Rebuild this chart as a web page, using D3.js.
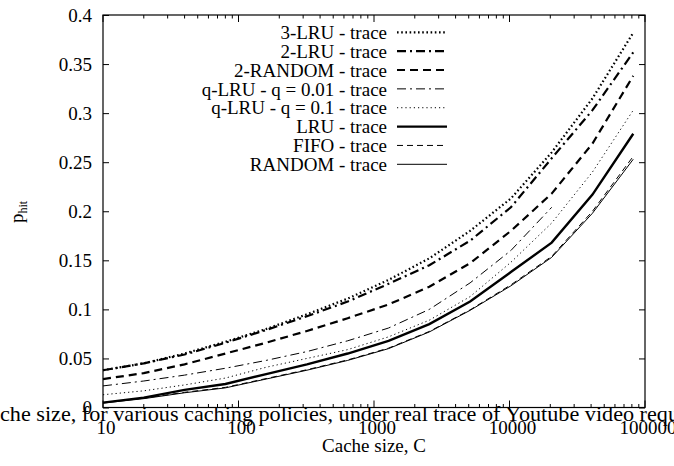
<!DOCTYPE html>
<html>
<head>
<meta charset="utf-8">
<script src="https://cdn.jsdelivr.net/npm/d3@7"></script>
<style>
  body { margin: 0; background: #fff; }
  text { font-family: "Liberation Serif", "Times New Roman", serif; fill: #000; }
</style>
</head>
<body>
<svg id="chart"></svg>
<script>
// cache sizes (x) and hit probability of each policy (y)
var sizes = [10, 20, 40, 80, 160, 320, 640, 1280, 2560, 5120, 10240, 20480, 40960, 81920];

var lru3    = [0.038, 0.045, 0.055, 0.067, 0.080, 0.095, 0.111, 0.130, 0.152, 0.180, 0.213, 0.260, 0.315, 0.382];
var lru2    = [0.038, 0.045, 0.054, 0.066, 0.079, 0.093, 0.108, 0.126, 0.145, 0.170, 0.204, 0.254, 0.303, 0.362];
var random2 = [0.029, 0.035, 0.044, 0.055, 0.066, 0.078, 0.091, 0.105, 0.123, 0.147, 0.180, 0.218, 0.269, 0.338];
var qlru001 = [0.022, 0.027, 0.033, 0.040, 0.048, 0.057, 0.068, 0.081, 0.100, 0.127, 0.160, 0.204];
var qlru01  = [0.013, 0.017, 0.023, 0.030, 0.041, 0.050, 0.059, 0.072, 0.089, 0.113, 0.148, 0.188, 0.240, 0.303];
var lru     = [0.005, 0.010, 0.018, 0.024, 0.034, 0.044, 0.055, 0.068, 0.085, 0.108, 0.138, 0.168, 0.217, 0.279];
var fifo    = [0.005, 0.0095, 0.0155, 0.0205, 0.0295, 0.0385, 0.0485, 0.0605, 0.0775, 0.0995, 0.125, 0.154, 0.200, 0.256];
var random  = [0.0045, 0.009, 0.015, 0.020, 0.029, 0.038, 0.048, 0.060, 0.077, 0.099, 0.124, 0.153, 0.198, 0.253];

var names = ["3-LRU - trace", "2-LRU - trace", "2-RANDOM - trace", "q-LRU - q = 0.01 - trace",
             "q-LRU - q = 0.1 - trace", "LRU - trace", "FIFO - trace", "RANDOM - trace"];
var seriesValues = [lru3, lru2, random2, qlru001, qlru01, lru, fifo, random];

var xTicks = [10, 100, 1000, 10000, 100000];
var xTickLabels = ["10", "100", "1000", "10000", "100000"];
var yTicks = [0, 0.05, 0.1, 0.15, 0.2, 0.25, 0.3, 0.35, 0.4];
var yTickLabels = ["0", "0.05", "0.1", "0.15", "0.2", "0.25", "0.3", "0.35", "0.4"];

var caption = "che size, for various caching policies, under real trace of Youtube video requ";

// line styles, same order as names
var styles = [
  {w: 2.2, dash: "1.6,2.6"},
  {w: 2.2, dash: "9,4,2,4"},
  {w: 2.2, dash: "8,5"},
  {w: 1,   dash: "9,4,2,4"},
  {w: 1,   dash: "1.2,3"},
  {w: 2.4, dash: null},
  {w: 1,   dash: "6,4"},
  {w: 1,   dash: null}
];

var screen = {width: 674, height: 466};
var margins = {left: 103, right: 29, top: 15, bottom: 58.5};
var graph = {
  width: screen.width - margins.left - margins.right,
  height: screen.height - margins.top - margins.bottom
};

var svg = d3.select("#chart")
  .attr("width", screen.width)
  .attr("height", screen.height);

svg.append("rect").attr("width", screen.width).attr("height", screen.height).attr("fill", "#fff");

var g = svg.append("g")
  .attr("transform", "translate(" + margins.left + "," + margins.top + ")");

var xScale = d3.scaleLog().domain([10, 100000]).range([0, graph.width]);
var yScale = d3.scaleLinear().domain([0, 0.4]).range([graph.height, 0]);

// minor and major ticks on x, inward, top and bottom
var minor = xScale.ticks().filter(function(d) { return xTicks.indexOf(d) < 0; });
[[graph.height, -1], [0, 1]].forEach(function(side) {
  g.selectAll(null).data(minor).enter().append("line")
    .attr("x1", function(d) { return xScale(d); })
    .attr("x2", function(d) { return xScale(d); })
    .attr("y1", side[0]).attr("y2", side[0] + side[1] * 3.5)
    .attr("stroke", "#000").attr("stroke-width", 1);
  g.selectAll(null).data(xTicks).enter().append("line")
    .attr("x1", function(d) { return xScale(d); })
    .attr("x2", function(d) { return xScale(d); })
    .attr("y1", side[0]).attr("y2", side[0] + side[1] * 7)
    .attr("stroke", "#000").attr("stroke-width", 1);
});

// y ticks inward, left and right
var yAxis = d3.axisLeft(yScale).tickValues(yTicks)
  .tickSize(-6).tickPadding(11)
  .tickFormat(function(d, i) { return yTickLabels[i]; });
var ya = g.append("g").call(yAxis);
ya.select(".domain").remove();
ya.selectAll("text").attr("font-size", 19).attr("font-family", "Liberation Serif").attr("fill", "#000");

var ya2 = g.append("g").attr("transform", "translate(" + graph.width + ",0)")
  .call(d3.axisRight(yScale).tickValues(yTicks).tickSize(-6).tickFormat(""));
ya2.select(".domain").remove();

// x tick labels
g.selectAll(null).data(xTicks).enter().append("text")
  .attr("x", function(d) { return xScale(d) + 3; })
  .attr("y", graph.height + 26.5)
  .attr("text-anchor", "middle")
  .attr("font-size", 19)
  .text(function(d, i) { return xTickLabels[i]; });

// frame
g.append("rect").attr("width", graph.width).attr("height", graph.height)
  .attr("fill", "none").attr("stroke", "#000").attr("stroke-width", 1.2);

// curves
var lineGenerator = d3.line()
  .x(function(v, i) { return xScale(sizes[i]); })
  .y(function(v) { return yScale(v); });

g.selectAll(".curve").data(seriesValues).enter().append("path")
  .classed("curve", true)
  .attr("d", lineGenerator)
  .attr("fill", "none")
  .attr("stroke", "#000")
  .attr("stroke-width", function(d, i) { return styles[i].w; })
  .attr("stroke-dasharray", function(d, i) { return styles[i].dash; });

// legend
var legend = svg.append("g");
var rowY = d3.scaleLinear().domain([0, names.length - 1]).range([32.3, 164.3]);
legend.selectAll("text").data(names).enter().append("text")
  .attr("x", 387)
  .attr("y", function(d, i) { return rowY(i); })
  .attr("dy", "0.35em")
  .attr("text-anchor", "end")
  .attr("font-size", 19)
  .text(function(d) { return d; });
legend.selectAll("line").data(names).enter().append("line")
  .attr("x1", 397).attr("x2", 447)
  .attr("y1", function(d, i) { return rowY(i); })
  .attr("y2", function(d, i) { return rowY(i); })
  .attr("stroke", "#000")
  .attr("stroke-width", function(d, i) { return styles[i].w; })
  .attr("stroke-dasharray", function(d, i) { return styles[i].dash; });

// axis titles
var yt = svg.append("text")
  .attr("transform", "translate(23,212) rotate(-90)")
  .attr("text-anchor", "middle")
  .attr("font-size", 19);
yt.append("tspan").text("p");
yt.append("tspan").attr("font-size", 12).attr("dy", 4).text("hit");

svg.append("text")
  .attr("x", margins.left + graph.width / 2)
  .attr("y", 452)
  .attr("text-anchor", "middle")
  .attr("font-size", 19)
  .text("Cache size, C");

// stray caption line from the source document
svg.append("text")
  .attr("x", 0)
  .attr("y", 421)
  .attr("font-size", 22)
  .attr("textLength", 679)
  .attr("lengthAdjust", "spacingAndGlyphs")
  .text(caption);
</script>
</body>
</html>
